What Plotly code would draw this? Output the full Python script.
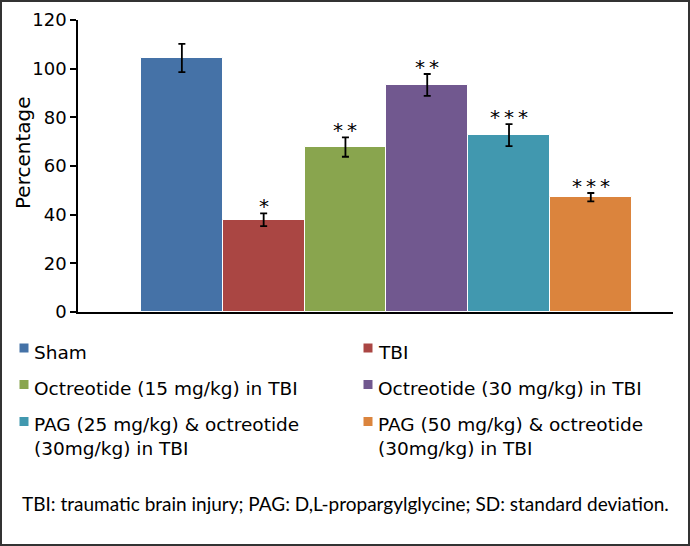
import plotly.graph_objects as go

# ---- data ----
groups = ["Sham", "TBI", "Octreotide (15 mg/kg) in TBI", "Octreotide (30 mg/kg) in TBI",
          "PAG (25 mg/kg) & octreotide (30mg/kg) in TBI", "PAG (50 mg/kg) & octreotide (30mg/kg) in TBI"]
legend_labels = ["Sham", "TBI", "Octreotide (15 mg/kg) in TBI", "Octreotide (30 mg/kg) in TBI",
                 "PAG (25 mg/kg) & octreotide<br>(30mg/kg) in TBI",
                 "PAG (50 mg/kg) & octreotide<br>(30mg/kg) in TBI"]
means = [104.4, 37.9, 67.8, 93.3, 72.7, 47.2]
sds = [5.8, 2.6, 4.0, 4.5, 4.5, 1.7]
stars = ["", "*", "*\u2009*", "*\u2009*", "*\u2009*\u2009*", "*\u2009*\u2009*"]
colors = ["#4572A7", "#AA4643", "#89A54E", "#71588F", "#4198AF", "#DB843D"]
y_ticks = [0, 20, 40, 60, 80, 100, 120]
footnote = "TBI: traumatic brain injury; PAG: D,L-propargylglycine; SD: standard deviation."

W, H = 690, 546
L, R, T, B = 78, 17, 20, 234
PW, PH = W - L - R, H - T - B


def px(x):
    return (x - L) / PW


def py(y):
    return (H - B - y) / PH


fig = go.Figure()
for i, g in enumerate(groups):
    fig.add_trace(go.Bar(
        x=[g], y=[means[i]], name=g, width=1,
        marker=dict(color=colors[i], line=dict(color="white", width=1)),
        error_y=dict(type="data", array=[sds[i]], visible=True, color="black",
                     thickness=1.8, width=3.5),
        showlegend=False,
    ))

annotations = []
for i, g in enumerate(groups):
    if stars[i]:
        annotations.append(dict(
            x=g, y=means[i] + sds[i], xref="x", yref="y", text=stars[i],
            showarrow=False, yanchor="bottom", xanchor="center", yshift=-7,
            font=dict(family="DejaVu Sans", size=20, color="black")))

# manual legend (two columns)
col_sq = [19.5, 363.5]
col_tx = [32, 376]
row_sq_top = [343.5, 380.0, 417.0]
row_tx_top = [340.0, 376.0, 412.0]
shapes = []
for i, lab in enumerate(legend_labels):
    c, r = i % 2, i // 2
    shapes.append(dict(type="rect", xref="paper", yref="paper",
                       x0=px(col_sq[c]), x1=px(col_sq[c] + 9),
                       y0=py(row_sq_top[r] + 9), y1=py(row_sq_top[r]),
                       fillcolor=colors[i], line=dict(width=0)))
    annotations.append(dict(
        x=px(col_tx[c]), y=py(row_tx_top[r]), xref="paper", yref="paper",
        text=lab, showarrow=False, xanchor="left", yanchor="top", align="left",
        font=dict(family="DejaVu Sans", size=18.5, color="black")))

# y axis title
annotations.append(dict(
    x=px(22.5), y=py(152.5), xref="paper", yref="paper", text="Percentage",
    textangle=-90, showarrow=False, xanchor="center", yanchor="middle",
    font=dict(family="DejaVu Sans", size=20, color="black")))

# footnote
annotations.append(dict(
    x=px(345.8), y=py(503), xref="paper", yref="paper", text=footnote,
    showarrow=False, xanchor="center", yanchor="middle",
    font=dict(family="Lato", size=19, color="black")))

# outer frame
shapes.append(dict(type="rect", xref="paper", yref="paper",
                   x0=px(1), x1=px(689), y0=py(545), y1=py(1),
                   line=dict(color="#333333", width=2), fillcolor="rgba(0,0,0,0)"))

fig.update_layout(
    width=W, height=H,
    margin=dict(l=L, r=R, t=T, b=B, autoexpand=False),
    paper_bgcolor="white", plot_bgcolor="white",
    bargap=0, barmode="group",
    annotations=annotations, shapes=shapes,
    xaxis=dict(range=[-1.27, 6.005], showticklabels=False, ticks="",
               showgrid=False, zeroline=False, showline=True, automargin=False,
               linecolor="black", linewidth=1.5),
    yaxis=dict(range=[0, 120], tickvals=y_ticks, ticks="outside", ticklen=6,
               tickwidth=1.5, tickcolor="black", showgrid=False, zeroline=False,
               showline=True, linecolor="black", linewidth=1.5, automargin=False,
               tickfont=dict(family="DejaVu Sans", size=18, color="black")),
)

fig.write_html("out.html", config={"displayModeBar": False},
               post_script="document.body.style.margin='0px';")
